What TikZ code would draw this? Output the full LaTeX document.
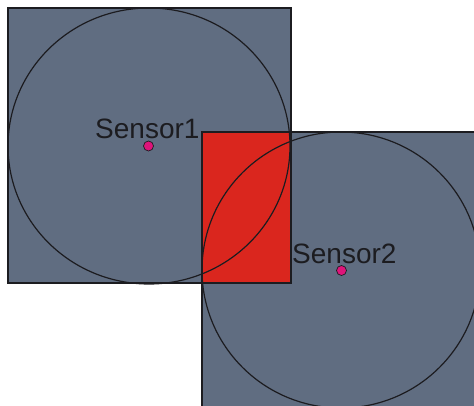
\documentclass[tikz,border=0pt]{standalone}
\usepackage{fontspec}
\setmainfont{Liberation Sans}

\definecolor{zone}{RGB}{96,109,129}
\definecolor{overlap}{RGB}{218,38,30}
\definecolor{dotpink}{RGB}{222,20,122}
\definecolor{edge}{RGB}{28,28,32}

\tikzset{
  zonebox/.style={fill=zone, draw=edge, line width=1.2pt},
  sensorrange/.style={draw=edge, line width=1.2pt},
  sensordot/.style={circle, fill=dotpink, draw=edge, line width=0.7pt, inner sep=0pt, minimum size=10pt},
  sensorlabel/.style={font=\fontsize{28}{30}\selectfont, text=edge, inner sep=0pt, anchor=base west}
}

\begin{document}
\begin{tikzpicture}[x=1pt, y=-1pt]
\useasboundingbox (0,0) rectangle (474,406);
\clip (0,0) rectangle (474,406);

%coverage squares
\draw[zonebox] (8,8) rectangle (291,283);
\draw[zonebox] (202,132) rectangle (485,407);

%overlap
\draw[fill=overlap, draw=edge, line width=1.2pt] (202,132) rectangle (291,283);

%ranges
\draw[sensorrange] (149,146) ellipse [x radius=141, y radius=138];
\draw[sensorrange] (341,270) ellipse [x radius=139, y radius=138];

%Sensor1
\node[sensordot] (dot1) at (148.5,146) {};
\node[sensorlabel] (lab1) at (95,139) {Sensor1};

%Sensor2
\node[sensordot] (dot2) at (341.5,270.5) {};
\node[sensorlabel] (lab2) at (292,263) {Sensor2};
\end{tikzpicture}
\end{document}
